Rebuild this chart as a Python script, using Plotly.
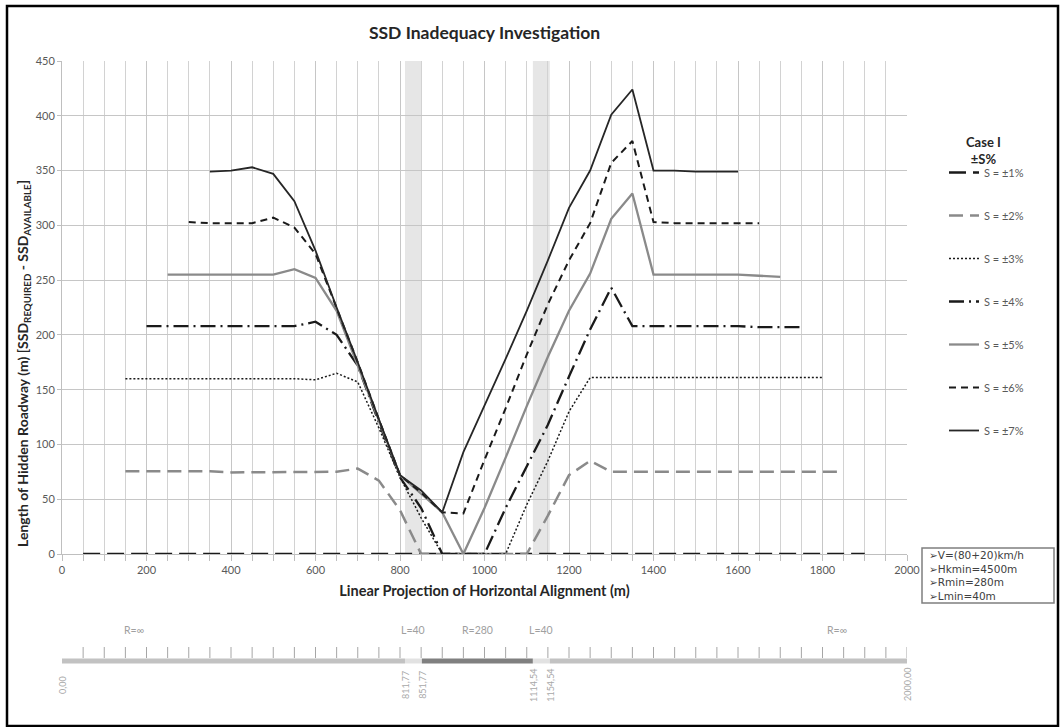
import plotly.graph_objects as go

# ---------------- data ----------------
N = None
X = [50, 100, 150, 200, 250, 300, 350, 400, 450, 500, 550, 600, 650, 700, 750, 800, 850, 900, 950,
     1000, 1050, 1100, 1150, 1200, 1250, 1300, 1350, 1400, 1450, 1500, 1550, 1600, 1650, 1700,
     1750, 1800, 1850, 1900]

S1 = [0, 0, 0, 0, 0, 0, 0, 0, 0, 0, 0, 0, 0, 0, 0, 0, 0, 0, 0,
      0, 0, 0, 0, 0, 0, 0, 0, 0, 0, 0, 0, 0, 0, 0, 0, 0, 0, 0]
S2 = [N, N, 75.5, 75.5, 75.5, 75.5, 75.5, 74.5, 74.5, 74.5, 74.5, 74.5, 75, 78, 67, 40, 0, 0, 0,
      0, 0, 0, 35, 72, 85, 75, 75, 75, 75, 75, 75, 75, 75, 75, 75, 75, 75, N]
S3 = [N, N, 160, 160, 160, 160, 160, 160, 160, 160, 160, 159, 165, 157, 115, 70, 33, 0, 0,
      0, 0, 45, 85, 130, 161, 161, 161, 161, 161, 161, 161, 161, 161, 161, 161, 161, N, N]
S4 = [N, N, N, 208, 208, 208, 208, 208, 208, 208, 208, 212, 200, 172, 120, 70, 42, 0, 0,
      0, 42, 80, 118, 162, 205, 243, 208, 208, 208, 208, 208, 208, 207, 207, 207, N, N, N]
S5 = [N, N, N, N, 255, 255, 255, 255, 255, 255, 260, 252, 222, 172, 122, 72, 55, 38, 0,
      42, 88, 135, 180, 222, 256, 306, 329, 255, 255, 255, 255, 255, 254, 253, N, N, N, N]
S6 = [N, N, N, N, N, 303, 302, 302, 302, 307, 298, 274, 225, 175, 123, 72, 56, 38, 37,
      86, 133, 182, 228, 268, 302, 357, 377, 303, 302, 302, 302, 302, 302, N, N, N, N, N]
S7 = [N, N, N, N, N, N, 349, 350, 353, 347, 322, 277, 225, 175, 123, 72, 58, 38, 93,
      135, 178, 222, 268, 316, 350, 401, 424, 350, 350, 349, 349, 349, N, N, N, N, N, N]

SERIES = [S1, S2, S3, S4, S5, S6, S7]
NAMES = ["S = ±1%", "S = ±2%", "S = ±3%", "S = ±4%", "S = ±5%", "S = ±6%", "S = ±7%"]
LEGEND_TITLE = ["Case I", "±S%"]

# alignment (bottom strip)
BOUNDS = [0.00, 811.77, 851.77, 1114.54, 1154.54, 2000.00]
BOUND_LABELS = ["0,00", "811,77", "851,77", "1114,54", "1154,54", "2000,00"]
SEG_LABELS = ["R=∞", "L=40", "R=280", "L=40", "R=∞"]
SEG_LABEL_X = [170, 831.77, 983.15, 1134.54, 1835]
SEG_COLORS = ["#c2c2c2", "#e2e2e2", "#808080", "#e2e2e2", "#c2c2c2"]
TRANSITIONS = [(811.77, 851.77), (1114.54, 1154.54)]
STRIP_TICKS = list(range(50, 2001, 50))

INFO = ["➢V=(80+20)km/h", "➢Hkmin=4500m", "➢Rmin=280m", "➢Lmin=40m"]

# ---------------- styles ----------------
STYLES = [
    dict(color="#1a1a1a", width=2.5, dash="17px,7px"),
    dict(color="#8a8a8a", width=2.5, dash="14px,7px"),
    dict(color="#1a1a1a", width=1.5, dash="2px,2px"),
    dict(color="#1a1a1a", width=2.3, dash="15px,5px,2px,5px"),
    dict(color="#8a8a8a", width=2.3),
    dict(color="#1a1a1a", width=2.0, dash="7px,5px"),
    dict(color="#262626", width=1.8),
]

W, H = 1061, 727
ML, MR, MT, MB = 62, 154, 61, 0
PW = W - ML - MR
PH = H - MT - MB


def px_x(p):
    return (p - ML) / PW


def px_y(p):
    return (H - MB - p) / PH


fig = go.Figure()

for i, (ys, name) in enumerate(zip(SERIES, NAMES)):
    fig.add_trace(go.Scatter(x=X, y=ys, name=name, mode="lines", line=STYLES[i],
                             legendgroup=f"g{i}", xaxis="x", yaxis="y"))

# bottom strip: bar segments
for i in range(len(BOUNDS) - 1):
    fig.add_trace(go.Scatter(x=[BOUNDS[i], BOUNDS[i + 1]], y=[59, 59], mode="lines",
                             line=dict(color=SEG_COLORS[i], width=5), showlegend=False,
                             hoverinfo="skip", xaxis="x2", yaxis="y2"))
# strip ticks
tx, ty = [], []
for t in STRIP_TICKS:
    tx += [t, t, None]
    ty += [62, 73, None]
fig.add_trace(go.Scatter(x=tx, y=ty, mode="lines", line=dict(color="#a6a6a6", width=1),
                         showlegend=False, hoverinfo="skip", xaxis="x2", yaxis="y2"))

annotations = []
for lab, xv in zip(SEG_LABELS, SEG_LABEL_X):
    annotations.append(dict(x=xv, y=90, xref="x2", yref="y2", text=lab, showarrow=False,
                            font=dict(size=10.5, color="#a0a0a0")))
for lab, xv in zip(BOUND_LABELS, BOUNDS):
    annotations.append(dict(x=xv, y=35, xref="x2", yref="y2", text=lab, showarrow=False,
                            textangle=-90, font=dict(size=9, color="#a8a8a8")))

# info box text
annotations.append(dict(x=px_x(927), y=px_y(575.5), xref="paper", yref="paper",
                        xanchor="left", yanchor="middle", align="left",
                        text="<br>".join(INFO), showarrow=False,
                        font=dict(family="'DejaVu Sans', sans-serif", size=10.5,
                                  color="#404040")))

# legend title
annotations.append(dict(x=px_x(984), y=px_y(151), xref="paper", yref="paper",
                        xanchor="center", yanchor="middle", showarrow=False,
                        text="<br>".join(f"<b>{t}</b>" for t in LEGEND_TITLE),
                        font=dict(size=13, color="#262626")))

# y-axis title
annotations.append(dict(x=px_x(23), y=px_y(364), xref="paper", yref="paper",
                        xanchor="center", yanchor="middle", showarrow=False, textangle=-90,
                        text="<b>Length of Hidden Roadway (m) [SSD<sub>REQUIRED</sub> - SSD<sub>AVAILABLE</sub>]</b>",
                        font=dict(size=14, color="#262626")))

shapes = []
for a, b in TRANSITIONS:
    shapes.append(dict(type="rect", xref="x", yref="y domain", x0=a, x1=b, y0=0, y1=1,
                       fillcolor="#e6e6e6", line=dict(width=0), layer="below"))
shapes.append(dict(type="rect", xref="paper", yref="paper", x0=px_x(922), x1=px_x(1054),
                   y0=px_y(603), y1=px_y(548), line=dict(color="#7f7f7f", width=1.5),
                   fillcolor="white"))
shapes.append(dict(type="rect", xref="paper", yref="paper", x0=px_x(7), x1=px_x(1058),
                   y0=px_y(726), y1=px_y(6), line=dict(color="black", width=2.5)))

fig.update_layout(
    width=W, height=H,
    margin=dict(l=ML, r=MR, t=MT, b=MB, autoexpand=False),
    paper_bgcolor="white", plot_bgcolor="white",
    font=dict(family="Lato, 'Open Sans', sans-serif", size=10, color="#595959"),
    title=dict(text="<b>SSD Inadequacy Investigation</b>", xref="paper", x=0.5,
               xanchor="center", y=1 - 33 / H, yanchor="middle",
               font=dict(size=17.5, color="#262626")),
    xaxis=dict(domain=[0, 1], range=[0, 2000], tick0=0, dtick=200, anchor="y",
               automargin=False,
               showgrid=True, gridcolor="#c6c6c6", gridwidth=1,
               minor=dict(dtick=50, showgrid=True, gridcolor="#d2d2d2", ticks="outside",
                          ticklen=6, tickcolor="#bfbfbf"),
               ticks="outside", ticklen=6, tickcolor="#bfbfbf",
               showline=True, linecolor="#bfbfbf", zeroline=False,
               tickfont=dict(size=11, color="#595959"),
               title=dict(text="<b>Linear Projection of Horizontal Alignment (m)</b>",
                          font=dict(size=14.5, color="#262626"), standoff=10)),
    yaxis=dict(domain=[px_y(554), 1], range=[0, 450], tick0=0, dtick=50, anchor="x",
               automargin=False,
               showgrid=True, gridcolor="#c6c6c6", ticks="outside", ticklen=4,
               tickcolor="#bfbfbf", showline=True, linecolor="#bfbfbf", zeroline=False,
               tickfont=dict(size=11, color="#595959")),
    xaxis2=dict(domain=[0, 1], range=[0, 2000], anchor="y2", visible=False),
    yaxis2=dict(domain=[px_y(720), px_y(600)], range=[0, 120], anchor="x2", visible=False),
    legend=dict(x=px_x(944), xanchor="left", y=px_y(158), yanchor="top",
                font=dict(size=11, color="#595959"), tracegroupgap=24, itemwidth=30,
                bgcolor="rgba(0,0,0,0)"),
    annotations=annotations,
    shapes=shapes,
    showlegend=True,
)

fig.write_html("out.html", config={"displayModeBar": False},
               post_script="document.body.style.margin='0px';")
